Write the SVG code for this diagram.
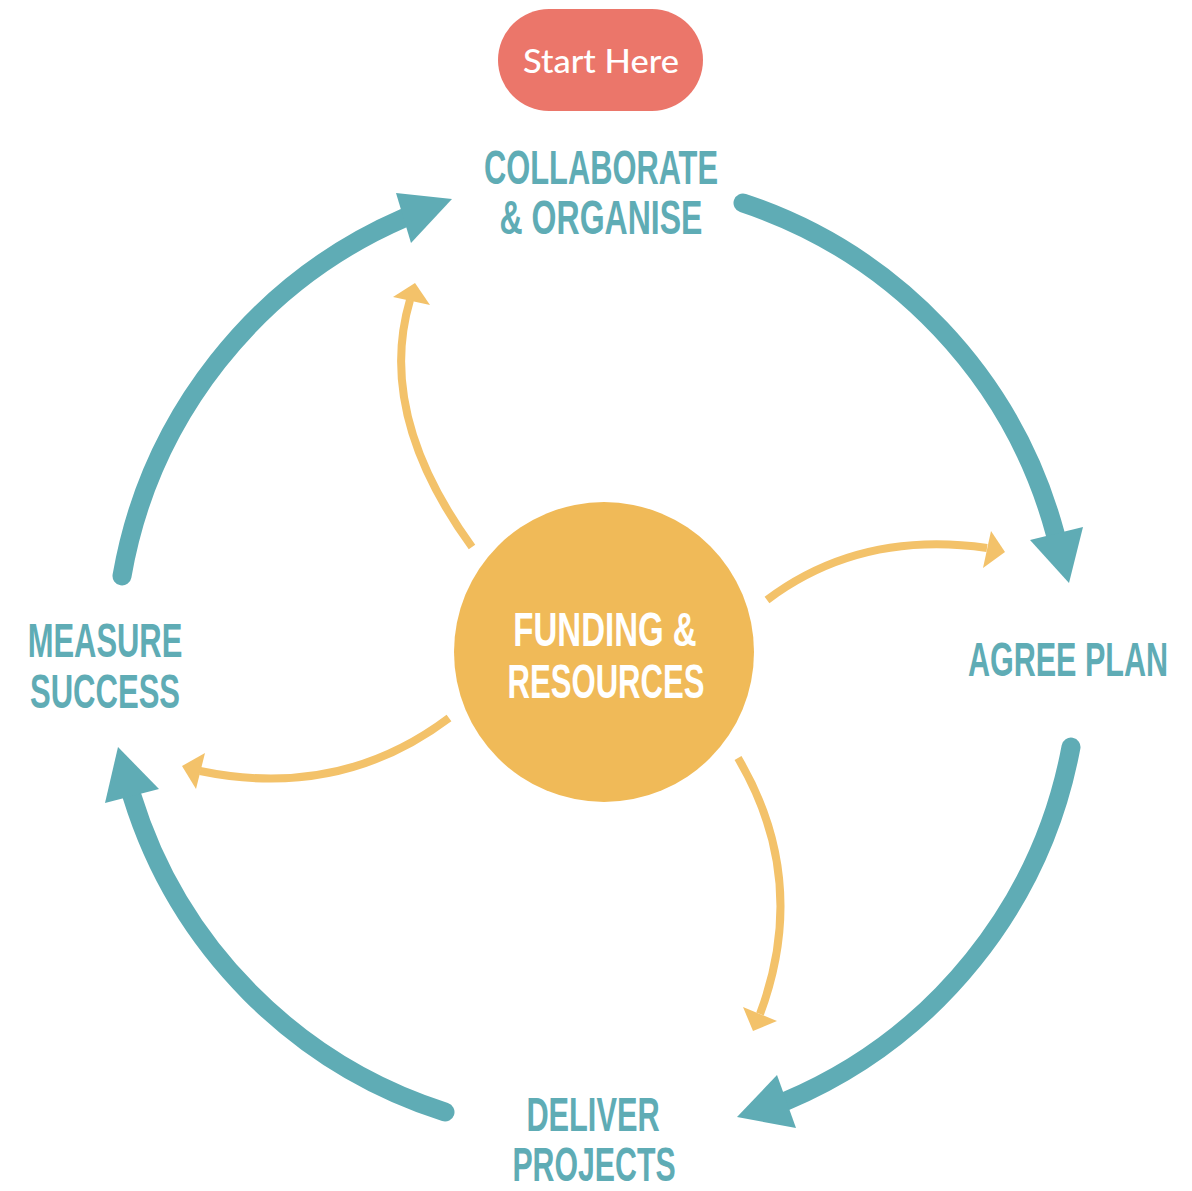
<svg xmlns="http://www.w3.org/2000/svg" width="1192" height="1191" viewBox="0 0 1192 1191">
<style>
.big{fill:none;stroke:#5FACB5;stroke-width:19;stroke-linecap:round}
.bighead{fill:#5FACB5}
.small{fill:none;stroke:#F3C26A;stroke-width:8}
.smallhead{fill:#F3C26A}
.lbl{font-family:"Liberation Sans Narrow","Liberation Sans",Arial,sans-serif;font-weight:bold;font-size:48px;fill:#5FACB5;text-anchor:middle}
.ctr{fill:#FFFFFF}
</style>
<rect width="1192" height="1191" fill="#FFFFFF"/>
<g id="connectors">
  <path class="big" d="M 743 203 A 480 480 0 0 1 1055 533"/>
  <polygon class="bighead" points="1030,540 1083,527 1069,583"/>
  <path class="big" d="M 1071 747 A 480 480 0 0 1 786 1101"/>
  <polygon class="bighead" points="777,1075 796,1128 737,1117"/>
  <path class="big" d="M 445 1112 A 480 480 0 0 1 132 796"/>
  <polygon class="bighead" points="105,803 159,789 118,747"/>
  <path class="big" d="M 122 576 A 480 480 0 0 1 404 218"/>
  <polygon class="bighead" points="396,193 411,243 452,199"/>
  <path class="small" d="M 472 547 Q 376 415 410 300"/>
  <polygon class="smallhead" points="393,297 430,305 415,283"/>
  <path class="small" d="M 767 600 Q 860 530 987 548"/>
  <polygon class="smallhead" points="991,531 983,568 1005,552"/>
  <path class="small" d="M 738 758 Q 810 880 760 1014"/>
  <polygon class="smallhead" points="743,1007 777,1021 753,1031"/>
  <path class="small" d="M 449 718 Q 340 800 200 771"/>
  <polygon class="smallhead" points="205,753 196,789 182,766"/>
</g>
<g id="start">
  <rect x="498" y="9" width="205" height="102" rx="51" fill="#EB766A"/>
  <text x="601" y="73" font-family="Lato,'Open Sans',sans-serif" font-size="32" font-weight="500" fill="#FFFFFF" text-anchor="middle" textLength="156" lengthAdjust="spacingAndGlyphs">Start Here</text>
</g>
<g id="collaborate">
  <text class="lbl" transform="translate(601,184) scale(0.65,1)" textLength="360" lengthAdjust="spacingAndGlyphs">COLLABORATE</text>
  <text class="lbl" transform="translate(601,234) scale(0.65,1)" textLength="312" lengthAdjust="spacingAndGlyphs">&amp; ORGANISE</text>
</g>
<g id="agree">
  <text class="lbl" transform="translate(1068,676) scale(0.65,1)" textLength="308" lengthAdjust="spacingAndGlyphs">AGREE PLAN</text>
</g>
<g id="deliver">
  <text class="lbl" transform="translate(593,1131) scale(0.65,1)" textLength="205" lengthAdjust="spacingAndGlyphs">DELIVER</text>
  <text class="lbl" transform="translate(594,1181) scale(0.65,1)" textLength="251" lengthAdjust="spacingAndGlyphs">PROJECTS</text>
</g>
<g id="measure">
  <text class="lbl" transform="translate(105,657) scale(0.65,1)" textLength="238" lengthAdjust="spacingAndGlyphs">MEASURE</text>
  <text class="lbl" transform="translate(105,708) scale(0.65,1)" textLength="231" lengthAdjust="spacingAndGlyphs">SUCCESS</text>
</g>
<g id="funding">
  <circle cx="604" cy="652" r="150" fill="#F0BA58"/>
  <text class="lbl ctr" transform="translate(605,646) scale(0.65,1)" textLength="282" lengthAdjust="spacingAndGlyphs">FUNDING &amp;</text>
  <text class="lbl ctr" transform="translate(606,698) scale(0.65,1)" textLength="303" lengthAdjust="spacingAndGlyphs">RESOURCES</text>
</g>
</svg>
